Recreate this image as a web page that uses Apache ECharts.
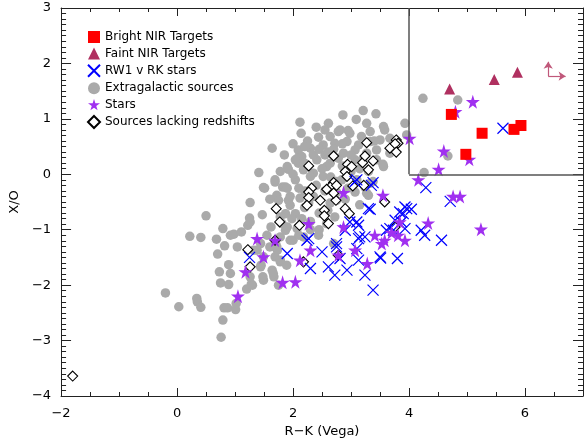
<!DOCTYPE html>
<html>
<head>
<meta charset="utf-8">
<script src="https://cdn.jsdelivr.net/npm/echarts@6/dist/echarts.min.js"></script>
<style>
  html, body { margin: 0; padding: 0; background: #fff; }
  #chart { width: 584px; height: 443px; }
</style>
</head>
<body>
<div id="chart"></div>
<script>
// data: [R-K, X/O]
const brightNIR = [[4.73,1.08],[5.26,0.74],[4.98,0.36],[5.81,0.81],[5.93,0.88]];
const faintNIR = [[4.70,1.54],[5.47,1.71],[5.87,1.84]];

const rw1Stars = [
  [5.62,0.83],[4.29,-0.24],[3.07,-0.13],[3.38,-0.15],[4.71,-0.49],[3.96,-0.62],[4.04,-0.63],
  [3.90,-0.71],[3.87,-0.86],[4.21,-1.01],[4.27,-1.10],[4.56,-1.19],[3.33,-0.63],[3.10,-0.86],
  [2.90,-1.01],[3.13,-1.16],[3.24,-1.13],[2.27,-1.16],[2.50,-1.40],[2.75,-1.31],[2.81,-1.52],
  [3.10,-1.34],[3.13,-1.55],[2.30,-1.70],[2.61,-1.67],[2.72,-1.82],[2.93,-1.73],[3.24,-1.82],
  [3.38,-2.09],[3.51,-1.51],[3.80,-1.52],[3.61,-1.01],[3.67,-0.98],[3.76,-0.83],[3.84,-0.68],
  [3.93,-0.59],[3.73,-1.01],[3.93,-0.98],[3.35,-0.20],[1.25,-1.50],[1.90,-1.43],[3.10,-0.10],
  [2.98,-0.86],[3.13,-0.92],[3.15,-1.13],[2.75,-1.25],[2.24,-1.19],[3.50,-1.49],[3.30,-0.62]
];

const extragalactic = [
  [-0.20,-2.14],[0.03,-2.39],[0.34,-2.24],[0.35,-2.30],[0.41,-2.40],[0.75,-1.96],[0.89,-1.99],
  [0.81,-2.41],[0.87,-2.41],[1.01,-2.44],[1.02,-2.33],[0.79,-2.63],[0.76,-2.94],[1.20,-2.07],
  [1.30,-2.00],[1.49,-1.91],[1.75,-2.00],
  [0.50,-0.75],[0.22,-1.12],[0.41,-1.14],[0.79,-0.98],[0.68,-1.17],[0.82,-1.29],[0.92,-1.10],
  [0.98,-1.08],[1.11,-1.04],[1.04,-1.31],[1.26,-0.51],[1.25,-0.79],[1.22,-0.92],[1.47,-0.73],
  [1.51,-0.25],[1.69,-0.14],[1.72,-0.38],[1.82,-0.23],[1.87,-0.71],[0.70,-1.44],[0.89,-1.63],
  [0.73,-1.76],[1.28,-1.98],[1.45,-1.64],[1.49,-1.49],[1.64,-1.73],[1.69,-1.49],[1.73,-1.37],
  [1.67,-1.85],[1.48,-1.85],[1.78,-1.58],[1.89,-1.64],[1.60,-1.31],[1.70,-1.25],[1.78,-1.13],
  [1.81,-0.89],[1.87,-1.01],[1.44,-1.25],[1.38,-1.37],[1.92,-0.47],[1.26,-0.86],[1.78,-0.77],
  [1.90,-0.95],[2.07,-0.98],[1.95,-1.19],[1.72,-1.31],[1.78,-1.55],[1.66,-1.79],[1.44,-1.67],
  [1.26,-1.85],[0.92,-1.79],[1.32,-1.37],[1.75,-0.47],[1.95,-0.56],[2.27,-0.52],[2.64,-0.52],
  [2.72,-0.77],
  [2.12,0.94],[2.14,0.74],[1.64,0.47],[2.09,0.44],[2.08,0.29],[1.41,0.03],[1.78,0.05],[1.92,0.09],
  [1.69,-0.10],[1.87,-0.23],[1.49,-0.24],[2.04,-0.10],[2.61,0.92],[2.86,1.07],[3.21,1.15],
  [3.43,1.09],[3.09,0.99],[3.27,0.92],[3.56,0.86],[2.44,0.67],[2.78,0.77],[2.95,0.79],[3.33,0.77],
  [2.15,0.32],[2.30,0.47],[2.52,0.53],[2.72,0.56],[2.93,0.59],[3.13,0.53],[3.50,0.62],[3.67,0.65],
  [1.90,0.14],[2.09,0.20],[2.41,0.26],[2.64,0.20],[2.78,0.29],[3.07,0.26],[3.44,0.26],[3.56,0.14],
  [1.90,-0.25],[2.18,0.08],[2.35,0.02],[2.52,-0.04],[2.75,-0.13],[3.10,-0.10],[3.27,-0.34],
  [2.75,-0.32],[3.58,0.80],[3.93,0.92],[3.96,0.71],[2.64,0.68],[2.81,0.80],[2.98,0.74],[3.18,0.68],
  [3.33,0.59],[3.67,0.38],[2.87,0.38],[3.07,0.44],[3.27,0.38],[3.44,0.44],[2.04,0.26],[2.58,0.14],
  [2.30,-0.04],[2.84,-0.10],[3.30,0.05],[3.33,-0.16],[4.24,1.37],[4.84,1.34],[4.67,0.33],
  [4.26,0.03],[3.55,0.18],[2.04,-0.71],[2.12,-0.43],[2.00,-1.19],[2.18,-1.13],[2.44,-1.10],
  [2.58,-0.89],[2.70,-1.25],[2.75,-0.47],[3.24,-0.23],[3.30,-0.38],[3.38,-0.13],[3.07,-0.32],
  [2.35,0.35],[2.45,0.45],[2.25,0.60],[2.55,0.35],[2.40,-0.20],[2.55,-0.30],[2.20,-0.30],
  [2.45,-0.70],[2.30,-0.85],[2.15,-0.80],[2.60,-0.65],[2.85,0.15],[3.00,0.05],[2.95,-0.25],
  [2.00,0.00],[2.20,-0.60],
  [2.20,0.50],[2.50,0.10],[2.60,0.40],[2.85,0.55],[3.00,0.35],[3.15,0.10],[2.40,0.85],
  [2.55,0.80],[2.00,0.55],[1.85,0.35],[1.95,-0.40],[2.10,-0.25],[2.35,-0.40],[2.65,-0.05],
  [2.90,-0.45],[3.15,-0.55],[2.45,-1.00],[2.30,-1.00],[2.10,-1.10],[1.98,-0.80],[2.20,0.20],
  [2.70,0.45],[3.20,0.25],[3.40,0.60],[1.60,-0.45],[1.62,-0.95],[1.55,-1.10]
];

const stars = [
  [4.01,0.65],[5.10,1.31],[4.80,1.13],[4.60,0.42],[5.04,0.27],[4.51,0.09],[4.16,-0.10],
  [3.55,-0.38],[2.87,-0.33],[4.76,-0.40],[4.88,-0.40],[4.33,-0.88],[5.24,-0.99],[3.93,-1.19],
  [2.27,-0.89],[2.87,-0.95],[2.30,-1.37],[2.12,-1.55],[3.07,-1.37],[3.28,-1.61],[3.41,-1.10],
  [3.53,-1.25],[3.81,-1.10],[3.84,-0.86],[1.38,-1.16],[1.69,-1.19],[1.49,-1.49],[1.18,-1.76],
  [1.82,-1.95],[2.04,-1.94],[1.05,-2.20],[2.78,-1.46],[3.58,-1.19],[3.70,-1.05]
];

const noRedshift = [
  [3.27,0.57],[2.70,0.33],[2.27,0.15],[2.94,0.18],[3.01,0.14],[3.20,0.21],[3.24,0.33],[3.38,0.24],
  [3.30,0.08],[2.90,0.05],[3.22,-0.20],[3.67,0.47],[3.78,0.62],[3.81,0.56],[3.76,0.55],[3.78,0.40],
  [2.70,-0.15],[2.64,-0.23],[2.58,-0.27],[2.75,-0.20],[2.32,-0.25],[2.27,-0.32],[2.93,-0.04],
  [3.03,-0.21],[2.27,-0.42],[2.47,-0.47],[2.74,-0.47],[2.24,-0.56],[2.54,-0.65],[2.54,-0.75],
  [2.61,-0.89],[2.90,-0.62],[2.97,-0.71],[3.58,-0.50],[1.71,-0.62],[1.77,-0.86],[2.11,-0.92],
  [1.69,-1.19],[1.22,-1.36],[1.26,-1.67],[2.18,-1.58],[2.78,-1.46],[3.76,-0.95],[2.70,-0.34],
  [-1.80,-3.64]
];

const starPath = 'path://M50,0L61,35L98,35L68,57L79,91L50,70L21,91L32,57L2,35L39,35Z';
const crossPath = 'path://M0,0L10,10M10,0L0,10';

const minus = v => String(v).replace('-', '\u2212');

const chart = echarts.init(document.getElementById('chart'));

const axisLine = { show: true, onZero: false, lineStyle: { color: '#222', width: 1 } };

chart.setOption({
  animation: false,
  textStyle: { fontFamily: 'DejaVu Sans' },
  grid: { left: 60, right: 1, top: 8, bottom: 47 },
  legend: {
    orient: 'vertical',
    left: 82,
    top: 26,
    itemWidth: 12,
    itemHeight: 12,
    itemGap: 4.4,
    textStyle: { fontSize: 12, color: '#000', fontFamily: 'DejaVu Sans' },
    data: ['Bright NIR Targets', 'Faint NIR Targets', 'RW1 v RK stars',
           'Extragalactic sources', 'Stars', 'Sources lacking redshifts']
  },
  xAxis: [
    {
      type: 'value', min: -2, max: 7, interval: 2, position: 'bottom',
      splitLine: { show: false },
      name: 'R\u2212K (Vega)', nameLocation: 'middle', nameGap: 29,
      nameTextStyle: { fontSize: 13, color: '#000' },
      axisLine,
      axisTick: { inside: true, length: 8, lineStyle: { color: '#222' } },
      minorTick: { show: true, splitNumber: 4, length: 4, lineStyle: { color: '#222' } },
      axisLabel: { fontSize: 13, color: '#000', margin: 11, showMaxLabel: false, formatter: minus }
    },
    {
      type: 'value', min: -2, max: 7, interval: 2, position: 'top',
      splitLine: { show: false },
      axisLine,
      axisTick: { inside: true, length: 8, lineStyle: { color: '#222' } },
      minorTick: { show: true, splitNumber: 4, length: 4, lineStyle: { color: '#222' } },
      axisLabel: { show: false }
    }
  ],
  yAxis: [
    {
      type: 'value', min: -4, max: 3, interval: 1, position: 'left',
      splitLine: { show: false },
      name: 'X/O', nameLocation: 'middle', nameGap: 33,
      nameTextStyle: { fontSize: 13, color: '#000' },
      axisLine,
      axisTick: { inside: true, length: 10, lineStyle: { color: '#222' } },
      minorTick: { show: true, splitNumber: 10, length: 5, lineStyle: { color: '#222' } },
      axisLabel: { fontSize: 13, color: '#000', margin: 10, formatter: minus }
    },
    {
      type: 'value', min: -4, max: 3, interval: 1, position: 'right',
      splitLine: { show: false },
      axisLine,
      axisTick: { inside: true, length: 10, lineStyle: { color: '#222' } },
      minorTick: { show: true, splitNumber: 10, length: 5, lineStyle: { color: '#222' } },
      axisLabel: { show: false }
    }
  ],
  series: [
    {
      name: 'Extragalactic sources', type: 'scatter', data: extragalactic,
      symbol: 'circle', symbolSize: 9.5,
      itemStyle: { color: '#aaaaaa', opacity: 1 },
      markLine: {
        silent: true, symbol: 'none', animation: false,
        label: { show: false },
        lineStyle: { color: '#555', width: 1.5, type: 'solid' },
        data: [
          [{ coord: [4, 0] }, { coord: [4, 3] }],
          [{ coord: [4, 0] }, { coord: [7, 0] }]
        ]
      }
    },
    {
      name: 'Sources lacking redshifts', type: 'scatter', data: noRedshift,
      symbol: 'diamond', symbolSize: 10,
      itemStyle: { color: '#fff', borderColor: '#000', borderWidth: 1.1, opacity: 1 }
    },
    {
      name: 'RW1 v RK stars', type: 'scatter', data: rw1Stars,
      symbol: crossPath, symbolSize: 11,
      itemStyle: { color: 'rgba(0,0,0,0)', borderColor: '#0000ff', borderWidth: 1.2, opacity: 1 }
    },
    {
      name: 'Stars', type: 'scatter', data: stars,
      symbol: starPath, symbolSize: 14,
      itemStyle: { color: '#a030f0', opacity: 1 }
    },
    {
      name: 'Faint NIR Targets', type: 'scatter', data: faintNIR,
      symbol: 'triangle', symbolSize: 11,
      itemStyle: { color: '#b03060', opacity: 1 },
      markLine: {
        silent: true, symbol: ['none', 'arrow'], symbolSize: 7, animation: false,
        label: { show: false },
        lineStyle: { color: '#c0587a', width: 1.2, type: 'solid' },
        data: [
          [{ coord: [6.40, 1.77] }, { coord: [6.40, 2.03] }],
          [{ coord: [6.40, 1.77] }, { coord: [6.70, 1.77] }]
        ]
      }
    },
    {
      name: 'Bright NIR Targets', type: 'scatter', data: brightNIR,
      symbol: 'rect', symbolSize: 11,
      itemStyle: { color: '#ff0000', opacity: 1 }
    }
  ]
});
</script>
</body>
</html>
